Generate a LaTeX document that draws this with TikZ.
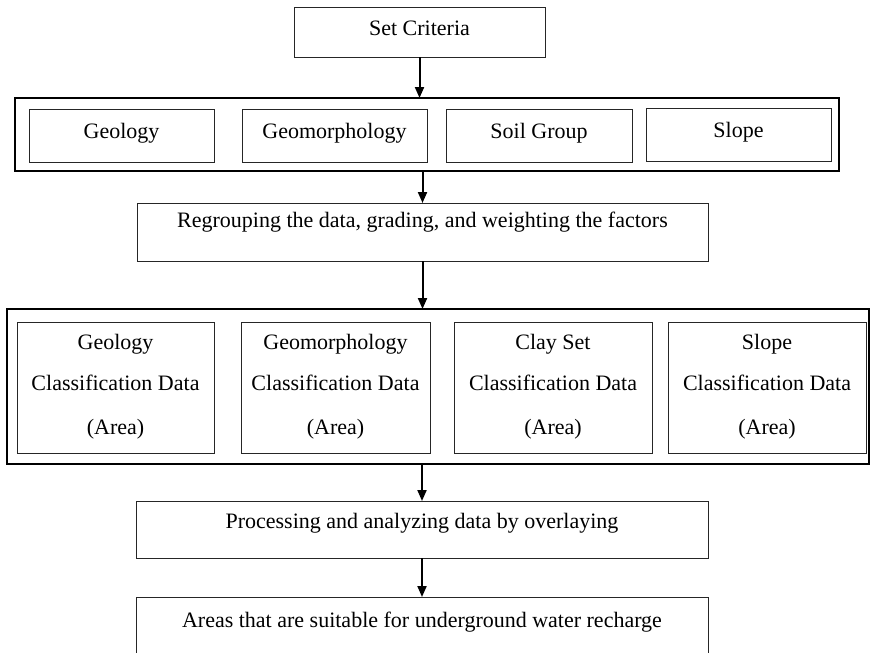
\documentclass[tikz,border=0pt]{standalone}
\usepackage{fontspec}
\setmainfont{Liberation Serif}
\usetikzlibrary{arrows.meta}
\newcommand\mybox[6]{\node[#6, minimum width={#4pt-#2pt}, minimum height={#5pt-#3pt}] (#1) at ({(#2+#4)/2},{(#3+#5)/2}) {};}
\begin{document}
\begin{tikzpicture}[x=1pt,y=-1pt,
  inbox/.style={draw=black!85, line width=1pt, inner sep=0pt, outer sep=0pt},
  outbox/.style={draw=black, line width=2pt, inner sep=0pt, outer sep=0pt},
  lbl/.style={anchor=base, inner sep=0pt, font=\fontsize{22}{26}\selectfont},
  arr/.style={line width=2pt, -{Triangle[length=11pt,width=9pt]}}]
\useasboundingbox (0,0) rectangle (870,653);
% boxes
\mybox{sc}{294}{7}{545}{57}{inbox}
\mybox{ob1}{15}{98}{839}{171}{outbox}
\mybox{ga}{29}{109}{214}{162}{inbox}
\mybox{ma}{242}{109}{427}{162}{inbox}
\mybox{sa}{446}{109}{632}{162}{inbox}
\mybox{pa}{646}{108}{831}{161}{inbox}
\mybox{rg}{137}{203}{708}{261}{inbox}
\mybox{ob2}{7}{309}{869}{464}{outbox}
\mybox{gb}{17}{322}{214}{453}{inbox}
\mybox{mb}{241}{322}{430}{453}{inbox}
\mybox{cb}{454}{322}{652}{453}{inbox}
\mybox{pb}{668}{322}{866}{453}{inbox}
\mybox{pr}{136}{501}{708}{558}{inbox}
\mybox{ar}{136}{597}{708}{656}{inbox}
% texts
\node[lbl] (tsc) at (419.5,35) {Set Criteria};
\node[lbl] (tga) at (121.5,138) {Geology};
\node[lbl] (tma) at (334.5,138) {Geomorphology};
\node[lbl] (tsa) at (539,138) {Soil Group};
\node[lbl] (tpa) at (738.5,137) {Slope};
\node[lbl] (trg) at (422.5,227) {Regrouping the data, grading, and weighting the factors};
\node[lbl] (tgb1) at (115.5,349) {Geology};
\node[lbl] (tgb2) at (115.5,390) {Classification Data};
\node[lbl] (tgb3) at (115.5,434) {(Area)};
\node[lbl] (tmb1) at (335.5,349) {Geomorphology};
\node[lbl] (tmb2) at (335.5,390) {Classification Data};
\node[lbl] (tmb3) at (335.5,434) {(Area)};
\node[lbl] (tcb1) at (553,349) {Clay Set};
\node[lbl] (tcb2) at (553,390) {Classification Data};
\node[lbl] (tcb3) at (553,434) {(Area)};
\node[lbl] (tpb1) at (767,349) {Slope};
\node[lbl] (tpb2) at (767,390) {Classification Data};
\node[lbl] (tpb3) at (767,434) {(Area)};
\node[lbl] (tpr) at (422,528) {Processing and analyzing data by overlaying};
\node[lbl] (tar) at (422,627) {Areas that are suitable for underground water recharge};
% arrows
\draw[arr] (sc.south) -- (sc.south |- ob1.north);
\draw[arr] (rg.north |- ob1.south) -- (rg.north);
\draw[arr] (rg.south) -- (rg.south |- ob2.north);
\draw[arr] (pr.north |- ob2.south) -- (pr.north);
\draw[arr] (pr.south) -- (ar.north);
\end{tikzpicture}
\end{document}
